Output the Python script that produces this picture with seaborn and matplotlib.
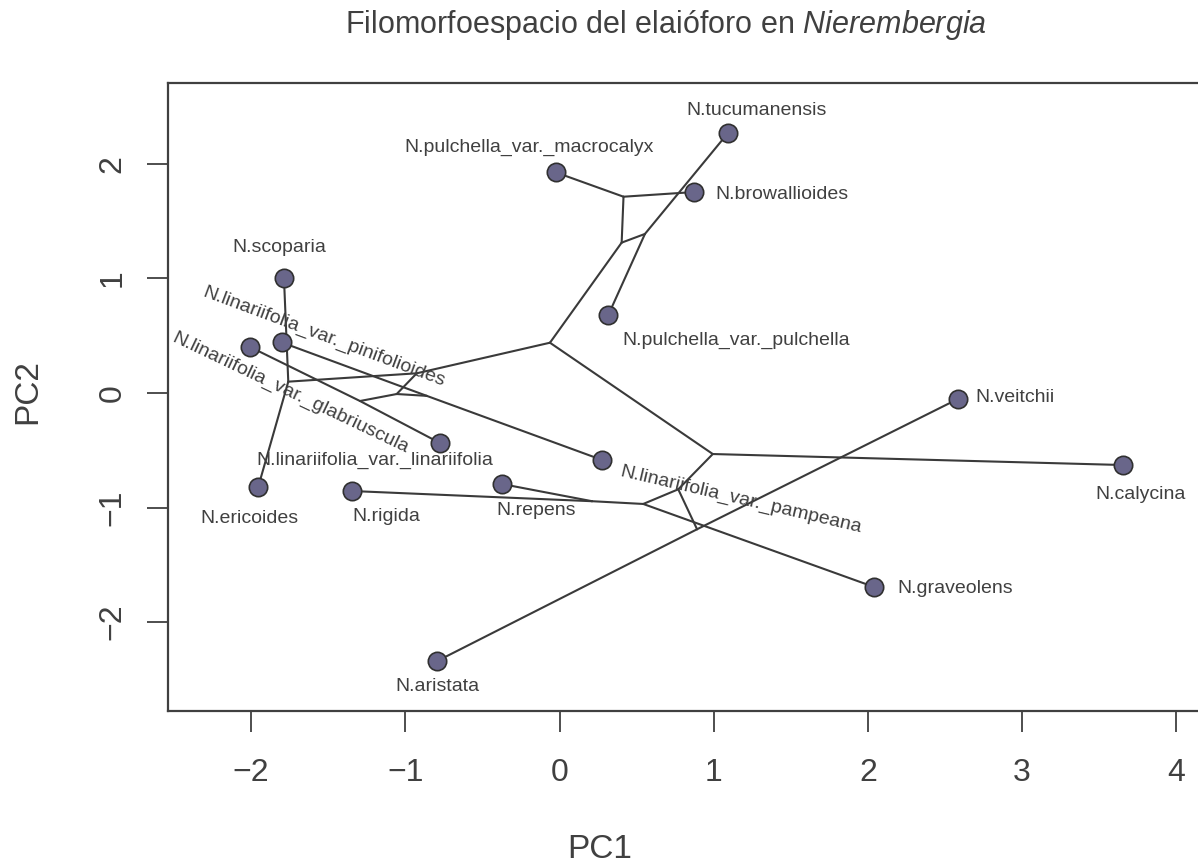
import pandas as pd
import seaborn as sns
import matplotlib.pyplot as plt

# tip taxa and their PC scores
tips = ["N.tucumanensis", "N.pulchella_var._macrocalyx", "N.browallioides",
        "N.scoparia", "N.pulchella_var._pulchella",
        "N.linariifolia_var._pinifolioides", "N.linariifolia_var._glabriuscula",
        "N.veitchii", "N.linariifolia_var._linariifolia",
        "N.linariifolia_var._pampeana", "N.calycina", "N.ericoides",
        "N.rigida", "N.repens", "N.graveolens", "N.aristata"]
tip_pc1 = [1.093, -0.023, 0.875, -1.787, 0.315, -1.800, -2.007, 2.584,
           -0.775, 0.276, 3.654, -1.955, -1.346, -0.373, 2.040, -0.794]
tip_pc2 = [2.271, 1.926, 1.755, 1.004, 0.677, 0.441, 0.402, -0.052,
           -0.437, -0.585, -0.629, -0.825, -0.856, -0.795, -1.694, -2.341]

# reconstructed ancestral states
nodes = ["A", "B", "C", "D", "E", "R", "F", "K", "L", "M", "G", "H", "I", "J"]
node_pc1 = [-0.926, -1.759, -1.056, -0.861, -1.294, -0.062, 0.403, 0.415,
            0.554, 0.994, 0.770, 0.543, 0.892, 0.211]
node_pc2 = [0.172, 0.099, -0.009, -0.025, -0.070, 0.439, 1.313, 1.714,
            1.389, -0.533, -0.841, -0.969, -1.190, -0.945]

edges = [("B", "N.scoparia"), ("B", "N.ericoides"), ("A", "B"), ("A", "C"),
         ("R", "A"), ("C", "E"), ("C", "D"),
         ("E", "N.linariifolia_var._glabriuscula"),
         ("E", "N.linariifolia_var._linariifolia"),
         ("D", "N.linariifolia_var._pinifolioides"),
         ("D", "N.linariifolia_var._pampeana"),
         ("R", "F"), ("R", "M"), ("F", "K"), ("F", "L"),
         ("K", "N.pulchella_var._macrocalyx"), ("K", "N.browallioides"),
         ("L", "N.tucumanensis"), ("L", "N.pulchella_var._pulchella"),
         ("M", "N.calycina"), ("M", "G"), ("G", "H"), ("G", "I"),
         ("H", "J"), ("H", "N.graveolens"), ("J", "N.rigida"),
         ("J", "N.repens"), ("I", "N.aristata"), ("I", "N.veitchii")]

# label placement: offset in pixels (right, down), alignment, rotation
label_pos = {
    "N.tucumanensis": (29, -22, "center", 0),
    "N.pulchella_var._macrocalyx": (-27, -25, "center", 0),
    "N.browallioides": (21, 2, "left", 0),
    "N.scoparia": (-5, -31, "center", 0),
    "N.pulchella_var._pulchella": (14, 25, "left", 0),
    "N.linariifolia_var._pinifolioides": (42, -5, "center", -20.5),
    "N.linariifolia_var._glabriuscula": (40, 46, "center", -25.5),
    "N.veitchii": (17, -1, "left", 0),
    "N.linariifolia_var._linariifolia": (-65, 17, "center", 0),
    "N.linariifolia_var._pampeana": (139, 40, "center", -13.2),
    "N.calycina": (18, 29, "center", 0),
    "N.ericoides": (-9, 31, "center", 0),
    "N.rigida": (34, 25, "center", 0),
    "N.repens": (34, 26, "center", 0),
    "N.graveolens": (23, 2, "left", 0),
    "N.aristata": (0, 25, "center", 0),
}

sns.set_theme(style="white")
plt.rcParams['font.family'] = ['Liberation Sans', 'DejaVu Sans']
plt.rcParams['mathtext.fontset'] = 'custom'
plt.rcParams['mathtext.rm'] = 'Liberation Sans'
plt.rcParams['mathtext.it'] = 'Liberation Sans:italic'

grey = '#404040'

coords = dict(zip(tips, zip(tip_pc1, tip_pc2)))
coords.update(zip(nodes, zip(node_pc1, node_pc2)))

rows = []
for i, (a, b) in enumerate(edges):
    for n in (a, b):
        rows.append({'edge': i, 'PC1': coords[n][0], 'PC2': coords[n][1]})
edge_df = pd.DataFrame(rows)
tip_df = pd.DataFrame({'taxon': tips, 'PC1': tip_pc1, 'PC2': tip_pc2})

W, H = 1198, 867
fig = plt.figure(figsize=(W / 100, H / 100), dpi=100)
ax = fig.add_axes([168 / W, 1 - 711 / H, (1205 - 168) / W, (711 - 83) / H])

sns.lineplot(data=edge_df, x='PC1', y='PC2', units='edge', estimator=None,
             sort=False, color='#3a3a3a', lw=1.5, ax=ax, legend=False)
sns.scatterplot(data=tip_df, x='PC1', y='PC2', s=175, color='#69668a',
                edgecolor='#303030', linewidth=1.2, ax=ax, zorder=3,
                legend=False)

for name, x, y in zip(tips, tip_pc1, tip_pc2):
    dx, dy, ha, rot = label_pos[name]
    ax.annotate(name, (x, y), xytext=(dx * 0.72, -dy * 0.72),
                textcoords='offset points', ha=ha, va='center',
                rotation=rot, rotation_mode='anchor', fontsize=14,
                color=grey)

ax.set_xlim(-2.539, 4.186)
ax.set_ylim(-2.777, 2.707)
ax.set_xticks(range(-2, 5))
ax.set_yticks(range(-2, 3))
ax.set_xticklabels([str(v).replace('-', '\u2212') for v in range(-2, 5)])
ax.set_yticklabels([str(v).replace('-', '\u2212') for v in range(-2, 3)],
                   rotation=90, va='center')
ax.tick_params(axis='both', direction='out', length=15, width=1.3,
               color=grey, labelcolor=grey, labelsize=23)
ax.tick_params(axis='x', pad=19)
ax.tick_params(axis='y', pad=14)
ax.xaxis.set_ticks_position('bottom')
ax.yaxis.set_ticks_position('left')
for sp in ax.spines.values():
    sp.set_color(grey)
    sp.set_linewidth(1.6)

ax.set_xlabel('PC1', fontsize=24, color=grey)
ax.set_ylabel('PC2', fontsize=24, color=grey)
ax.xaxis.label.set_va('center')
ax.yaxis.label.set_va('center')
ax.xaxis.set_label_coords((600 - 168) / 1037, (711 - 850) / 628)
ax.yaxis.set_label_coords((28 - 168) / 1037, (711 - 392) / 628)

fig.text(345 / W, 1 - 33 / H,
         'Filomorfoespacio del elaióforo en $\\mathit{Nierembergia}$',
         ha='left', va='baseline', fontsize=22, color=grey)

fig.savefig('out.png', dpi=100)
